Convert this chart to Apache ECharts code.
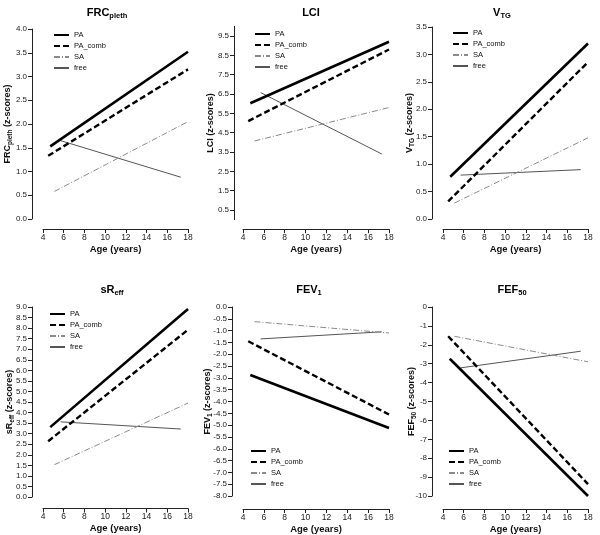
<!DOCTYPE html>
<html><head><meta charset="utf-8">
<script src="https://cdn.jsdelivr.net/npm/echarts@6/dist/echarts.min.js"></script>
<style>html,body{margin:0;padding:0;background:#fff}#c{width:600px;height:535px}</style>
</head><body><div id="c"></div>
<script>
// ---- data (age in years, z-score) ----
const seriesNames = ['PA', 'PA_comb', 'SA', 'free'];
const xTickMin = 4, xTickMax = 18, xTickStep = 2;

const frcPA   = [[4.7, 1.53], [18, 3.52]];
const frcComb = [[4.5, 1.33], [18, 3.15]];
const frcSA   = [[5.1, 0.58], [18, 2.05]];
const frcFree = [[5.7, 1.65], [17.3, 0.88]];

const lciPA   = [[4.7, 6.02], [18, 9.2]];
const lciComb = [[4.5, 5.1], [18, 8.8]];
const lciSA   = [[5.1, 4.07], [18, 5.8]];
const lciFree = [[5.7, 6.57], [17.3, 3.4]];
const lciTicks = [0.5, 1.5, 2.5, 3.5, 4.5, 5.5, 6.5, 7.5, 8.5, 9.5];

const vtgPA   = [[4.7, 0.77], [18, 3.2]];
const vtgComb = [[4.5, 0.32], [18, 2.86]];
const vtgSA   = [[5.1, 0.29], [18, 1.48]];
const vtgFree = [[5.7, 0.80], [17.3, 0.90]];

const sreffPA   = [[4.7, 3.31], [18, 8.9]];
const sreffComb = [[4.5, 2.64], [18, 7.92]];
const sreffSA   = [[5.1, 1.53], [18, 4.45]];
const sreffFree = [[5.7, 3.56], [17.3, 3.22]];

const fev1PA   = [[4.7, -2.88], [18, -5.12]];
const fev1Comb = [[4.5, -1.45], [18, -4.55]];
const fev1SA   = [[5.1, -0.62], [18, -1.1]];
const fev1Free = [[5.7, -1.35], [17.3, -1.05]];

const fef50PA   = [[4.65, -2.74], [18, -10]];
const fef50Comb = [[4.5, -1.55], [18, -9.37]];
const fef50SA   = [[5.1, -1.55], [18, -2.9]];
const fef50Free = [[5.7, -3.22], [17.3, -2.34]];

// ---- layout / style ----
const styles = {
  PA:      {color: '#000', width: 2.6, type: 'solid'},
  PA_comb: {color: '#000', width: 2.4, type: [6, 3]},
  SA:      {color: '#8a8a8a', width: 1, type: [6, 2, 1, 2]},
  free:    {color: '#555', width: 1, type: 'solid'}
};

const panels = [
  {title: '{a|FRC}{s|pleth}', yname: '{b|FRC}{t|pleth}{b| (z-scores)}', ymin: 0, ymax: 4, interval: 0.5, dec: 1,
   data: [frcPA, frcComb, frcSA, frcFree], grid: {left: 43, top: 29, width: 145, height: 190}, yOff: 11, xOff: 10, yGap: 18,
   tx: 107, ty: 6, lg: {left: 53, top: 31}},
  {title: '{a|LCI}', yname: '{b|LCI (z-scores)}', ymin: 0, ymax: 10, custom: lciTicks, dec: 1,
   data: [lciPA, lciComb, lciSA, lciFree], grid: {left: 243, top: 26.3, width: 146, height: 193.4}, yOff: 9, xOff: 9.5, yGap: 17,
   tx: 311, ty: 6, lg: {left: 254, top: 30}},
  {title: '{a|V}{s|TG}', yname: '{b|V}{t|TG}{b| (z-scores)}', ymin: 0, ymax: 3.5, interval: 0.5, dec: 1,
   data: [vtgPA, vtgComb, vtgSA, vtgFree], grid: {left: 443, top: 27, width: 145, height: 192}, yOff: 11, xOff: 10, yGap: 16,
   tx: 502, ty: 6, lg: {left: 452, top: 29}},
  {title: '{a|sR}{s|eff}', yname: '{b|sR}{t|eff}{b| (z-scores)}', ymin: 0, ymax: 9, interval: 0.5, dec: 1,
   data: [sreffPA, sreffComb, sreffSA, sreffFree], grid: {left: 43, top: 307, width: 145, height: 190}, yOff: 11, xOff: 11.5, yGap: 16,
   tx: 112, ty: 283, lg: {left: 49, top: 310}},
  {title: '{a|FEV}{s|1}', yname: '{b|FEV}{t|1}{b| (z-scores)}', ymin: -8, ymax: 0, interval: 0.5, dec: 1,
   data: [fev1PA, fev1Comb, fev1SA, fev1Free], grid: {left: 243, top: 307, width: 146, height: 190}, yOff: 11, xOff: 13, yGap: 18,
   tx: 309, ty: 283, lg: {left: 250, top: 447}},
  {title: '{a|FEF}{s|50}', yname: '{b|FEF}{t|50}{b| (z-scores)}', ymin: -10, ymax: 0, interval: 1, dec: 0,
   data: [fef50PA, fef50Comb, fef50SA, fef50Free], grid: {left: 443, top: 307, width: 145, height: 190}, yOff: 11, xOff: 13, yGap: 14,
   tx: 512, ty: 283, lg: {left: 448, top: 447}}
];

const FONT = '"Liberation Sans", Arial, Helvetica, sans-serif';
const titleRich = {
  a: {fontSize: 11, fontWeight: 'bold', color: '#000', lineHeight: 14, fontFamily: FONT},
  s: {fontSize: 7.5, fontWeight: 'bold', color: '#000', lineHeight: 8, verticalAlign: 'bottom', fontFamily: FONT}
};
const nameRich = {
  b: {fontSize: 9, fontWeight: 'bold', color: '#111', lineHeight: 12, fontFamily: FONT},
  t: {fontSize: 6.5, fontWeight: 'bold', color: '#111', lineHeight: 7, verticalAlign: 'bottom', fontFamily: FONT}
};
const mkAxisLine = () => ({show: true, onZero: false, lineStyle: {color: '#222', width: 1}});

const option = {
  animation: false,
  backgroundColor: '#fff',
  textStyle: {fontFamily: FONT},
  title: [], grid: [], xAxis: [], yAxis: [], legend: [], series: []
};

panels.forEach((p, i) => {
  option.title.push({text: p.title, left: p.tx, top: p.ty, padding: 0, textAlign: 'center',
    textStyle: {rich: titleRich}});
  option.grid.push(Object.assign({containLabel: false}, p.grid));
  option.xAxis.push({
    type: 'value', gridIndex: i, min: xTickMin, max: xTickMax, interval: xTickStep,
    offset: p.xOff, splitLine: {show: false}, axisLine: mkAxisLine(),
    axisTick: {show: true, length: 4, lineStyle: {color: '#222'}},
    axisLabel: {fontSize: 8.5, color: '#222', margin: 4},
    name: 'Age (years)', nameLocation: 'middle', nameGap: 15, nameMoveOverlap: false,
    nameTextStyle: {fontSize: 9.5, fontWeight: 'bold', color: '#111'}
  });
  const y = {
    type: 'value', gridIndex: i, min: p.ymin, max: p.ymax,
    offset: p.yOff, splitLine: {show: false}, axisLine: mkAxisLine(),
    axisTick: {show: true, length: 4, lineStyle: {color: '#222'}},
    axisLabel: {fontSize: 8, color: '#222', margin: 5, formatter: v => Number(v).toFixed(p.dec)},
    name: p.yname, nameLocation: 'middle', nameRotate: 90, nameGap: p.yGap, nameMoveOverlap: false,
    nameTextStyle: {rich: nameRich}
  };
  if (p.custom) {
    y.axisLabel.customValues = p.custom;
    y.axisTick.customValues = p.custom;
  } else {
    y.interval = p.interval;
  }
  option.yAxis.push(y);
  option.legend.push({
    data: seriesNames, orient: 'vertical', left: p.lg.left, top: p.lg.top, padding: 0,
    itemWidth: 15, itemHeight: 8, itemGap: 3, itemTextGap: 3,
    itemStyle: {opacity: 0, borderWidth: 0},
    textStyle: {fontSize: 7.5, color: '#111', lineHeight: 8},
    selectedMode: false
  });
  // draw in reverse so PA ends on top
  for (let k = seriesNames.length - 1; k >= 0; k--) {
    const n = seriesNames[k], s = styles[n];
    option.series.push({
      name: n, type: 'line', xAxisIndex: i, yAxisIndex: i, data: p.data[k],
      symbol: 'none', silent: true,
      itemStyle: {color: s.color},
      lineStyle: {color: s.color, width: s.width, type: s.type}
    });
  }
});

const chart = echarts.init(document.getElementById('c'), null, {renderer: 'canvas'});
chart.setOption(option);
</script>
</body></html>
